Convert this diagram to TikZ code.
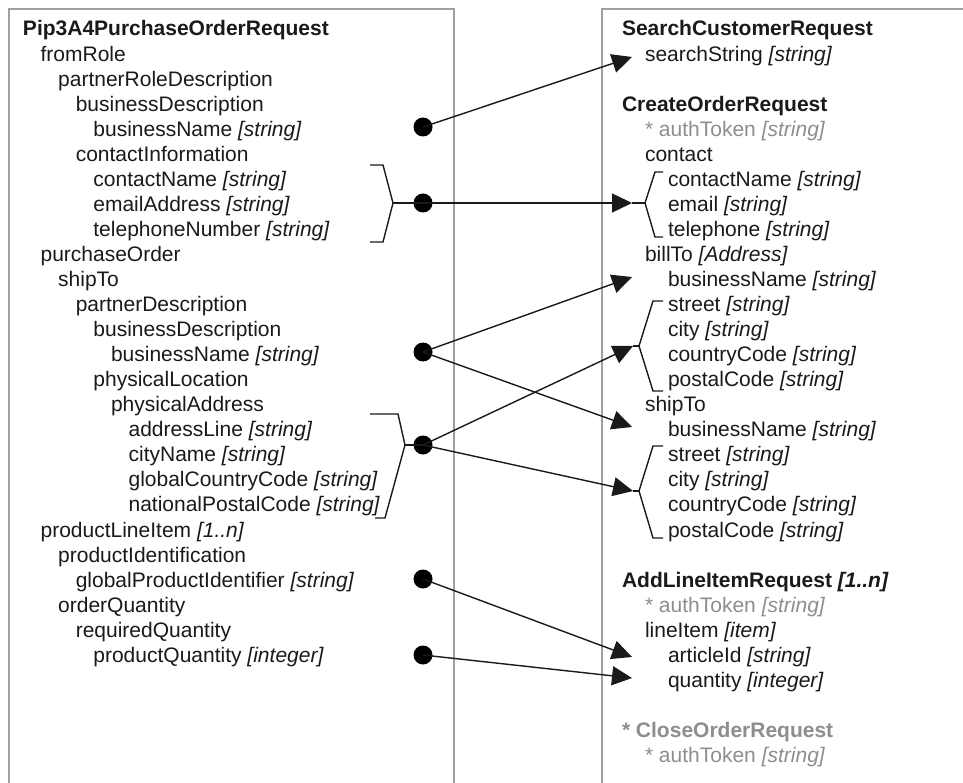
\documentclass[tikz,border=0pt]{standalone}
\usepackage{fontspec}
\setmainfont{Liberation Sans}
\usetikzlibrary{arrows.meta}
\definecolor{boxgray}{HTML}{A0A0A0}
\definecolor{optgray}{HTML}{8E8E8E}
\definecolor{ink}{HTML}{1A1A1A}
\newcommand\leftitem[4]{\node[txt] (#1) at ({23+17.6*#2},{36+25.05*#3}) {#4};}
\newcommand\rightitem[4]{\node[txt] (#1) at ({622+23*#2},{36+25.05*#3}) {#4};}
\newcommand\ty[1]{\textit{#1}}
\begin{document}
\begin{tikzpicture}[x=1pt,y=-1pt,
  txt/.style={anchor=base west,inner sep=0pt,outer sep=0pt,text=ink,font=\fontsize{21}{25}\selectfont},
  opt/.style={txt,text=optgray},
  boxline/.style={draw=boxgray,line width=1.1pt},
  conn/.style={draw=ink,line width=1.4pt,line join=miter},
  arr/.style={conn,-{Triangle[length=20pt,width=19pt]}},
  dot/.style={circle,fill=black,inner sep=0pt,minimum size=19pt}]
\useasboundingbox (0,0) rectangle (963,783);
\fill[white] (0,0) rectangle (963,783);
% boxes
\draw[boxline] (9,783) -- (9,9) -- (454,9) -- (454,783);
\draw[boxline] (602,783) -- (602,9) -- (963,9);
% left texts
\leftitem{l0}{0}{0}{\textbf{Pip3A4PurchaseOrderRequest}}
\leftitem{l1}{1}{1}{fromRole}
\leftitem{l2}{2}{2}{partnerRoleDescription}
\leftitem{l3}{3}{3}{businessDescription}
\leftitem{l4}{4}{4}{businessName \ty{[string]}}
\leftitem{l5}{3}{5}{contactInformation}
\leftitem{l6}{4}{6}{contactName \ty{[string]}}
\leftitem{l7}{4}{7}{emailAddress \ty{[string]}}
\leftitem{l8}{4}{8}{telephoneNumber \ty{[string]}}
\leftitem{l9}{1}{9}{purchaseOrder}
\leftitem{l10}{2}{10}{shipTo}
\leftitem{l11}{3}{11}{partnerDescription}
\leftitem{l12}{4}{12}{businessDescription}
\leftitem{l13}{5}{13}{businessName \ty{[string]}}
\leftitem{l14}{4}{14}{physicalLocation}
\leftitem{l15}{5}{15}{physicalAddress}
\leftitem{l16}{6}{16}{addressLine \ty{[string]}}
\leftitem{l17}{6}{17}{cityName \ty{[string]}}
\leftitem{l18}{6}{18}{globalCountryCode \ty{[string]}}
\leftitem{l19}{6}{19}{nationalPostalCode \ty{[string]}}
\leftitem{l20}{1}{20}{productLineItem \ty{[1..n]}}
\leftitem{l21}{2}{21}{productIdentification}
\leftitem{l22}{3}{22}{globalProductIdentifier \ty{[string]}}
\leftitem{l23}{2}{23}{orderQuantity}
\leftitem{l24}{3}{24}{requiredQuantity}
\leftitem{l25}{4}{25}{productQuantity \ty{[integer]}}
% right texts
\rightitem{r0}{0}{0}{\textbf{SearchCustomerRequest}}
\rightitem{r1}{1}{1}{searchString \ty{[string]}}
\rightitem{r3}{0}{3}{\textbf{CreateOrderRequest}}
\node[opt] (r4) at (645,{36+25.05*4}) {* authToken \ty{[string]}};
\rightitem{r5}{1}{5}{contact}
\rightitem{r6}{2}{6}{contactName \ty{[string]}}
\rightitem{r7}{2}{7}{email \ty{[string]}}
\rightitem{r8}{2}{8}{telephone \ty{[string]}}
\rightitem{r9}{1}{9}{billTo \ty{[Address]}}
\rightitem{r10}{2}{10}{businessName \ty{[string]}}
\rightitem{r11}{2}{11}{street \ty{[string]}}
\rightitem{r12}{2}{12}{city \ty{[string]}}
\rightitem{r13}{2}{13}{countryCode \ty{[string]}}
\rightitem{r14}{2}{14}{postalCode \ty{[string]}}
\rightitem{r15}{1}{15}{shipTo}
\rightitem{r16}{2}{16}{businessName \ty{[string]}}
\rightitem{r17}{2}{17}{street \ty{[string]}}
\rightitem{r18}{2}{18}{city \ty{[string]}}
\rightitem{r19}{2}{19}{countryCode \ty{[string]}}
\rightitem{r20}{2}{20}{postalCode \ty{[string]}}
\rightitem{r22}{0}{22}{\textbf{AddLineItemRequest \ty{[1..n]}}}
\node[opt] (r23) at (645,{36+25.05*23}) {* authToken \ty{[string]}};
\rightitem{r24}{1}{24}{lineItem \ty{[item]}}
\rightitem{r25}{2}{25}{articleId \ty{[string]}}
\rightitem{r26}{2}{26}{quantity \ty{[integer]}}
\node[opt] (r28) at (622,{36+25.05*28}) {\textbf{* CloseOrderRequest}};
\node[opt] (r29) at (645,{36+25.05*29}) {* authToken \ty{[string]}};
% dots
\node[dot] (d1) at (423,127) {};
\node[dot] (d2) at (423,203) {};
\node[dot] (d3) at (423,352) {};
\node[dot] (d4) at (423,445) {};
\node[dot] (d5) at (423,579) {};
\node[dot] (d6) at (423,655) {};
% left brackets
\coordinate (lb1) at (393,203);
\coordinate (lb2) at (405,445);
\draw[conn] (370,165) -- (383,165) -- (lb1) -- (383,242) -- (370,242);
\draw[conn] (370,414) -- (398,414) -- (lb2) -- (385,518) -- (375,518);
\draw[conn] (lb1) -- (d2.center);
\draw[conn] (lb2) -- (d4.center);
% right brackets
\coordinate (rb1) at (645,203);
\coordinate (rb2) at (639,346);
\coordinate (rb3) at (639,491);
\draw[conn] (663,172) -- (655,172) -- (rb1) -- (655,237) -- (663,237);
\draw[conn] (663,301) -- (653,301) -- (rb2) -- (653,391) -- (663,391);
\draw[conn] (663,446) -- (653,446) -- (rb3) -- (653,538) -- (663,538);
% arrow tips
\coordinate (t1) at (632,57);
\coordinate (t2) at (632,203);
\coordinate (t3) at (632,277);
\coordinate (t4) at (633,346);
\coordinate (t5) at (632,427);
\coordinate (t6) at (633,491);
\coordinate (t7) at (632,657);
\coordinate (t8) at (632,678);
% connectors
\draw[arr] (d1.center) -- (t1);
\draw[arr] (d2.center) -- (t2);
\draw[conn] (t2) -- (rb1);
\draw[arr] (d3.center) -- (t3);
\draw[arr] (d3.center) -- (t5);
\draw[arr] (d4.center) -- (t4);
\draw[conn] (t4) -- (rb2);
\draw[arr] (d4.center) -- (t6);
\draw[conn] (t6) -- (rb3);
\draw[arr] (d5.center) -- (t7);
\draw[arr] (d6.center) -- (t8);
\end{tikzpicture}
\end{document}
